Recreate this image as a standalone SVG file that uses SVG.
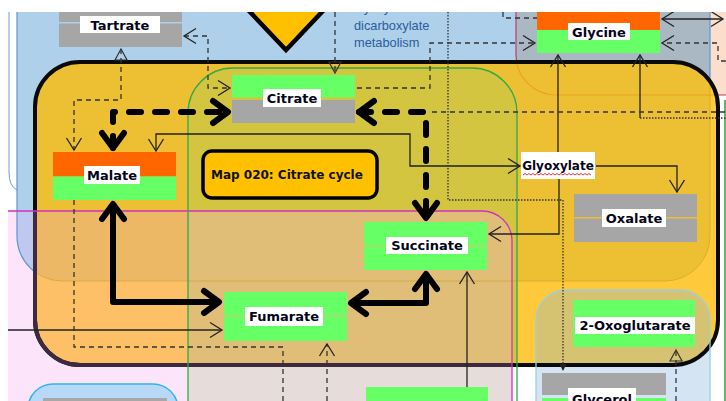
<svg xmlns="http://www.w3.org/2000/svg" width="726" height="401" viewBox="0 0 726 401">
<style>
.lbl{font-family:"DejaVu Sans",Verdana,sans-serif;font-weight:bold;font-size:13px;fill:#05051a;text-anchor:middle}
.lblbox{fill:#fff}
.or{fill:#ff6600}
.gr{fill:#66ff66}
.gy{fill:#a6a6a6}
.thin{fill:none;stroke:#222;stroke-width:1.3}
.dash{fill:none;stroke:#333;stroke-width:1.3;stroke-dasharray:5 4}
.dot{fill:none;stroke:#333;stroke-width:1.3;stroke-dasharray:1.5 1.5}
.thick{fill:none;stroke:#000;stroke-width:6;stroke-linejoin:round}
.thickdash{fill:none;stroke:#000;stroke-width:6;stroke-dasharray:12 14;stroke-linecap:round;stroke-linejoin:round}
.note{font-family:"Liberation Sans",Arial,sans-serif;font-size:12.8px;fill:#2a5d9a}
</style>
<defs>
  <!-- background region outlines -->
  <path id="shBlue" d="M17,-20 H710 V236 A45,45 0 0 1 665,281 H62 A45,45 0 0 1 17,236 Z"/>
  <path id="shRed" d="M516,-20 H760 V95 H556 A40,40 0 0 1 516,55 Z"/>
  <path id="shPink" d="M8,211 H482 A30,30 0 0 1 512,241 V470 H8 Z"/>
  <path id="shGreen" d="M188,470 V113 A45,45 0 0 1 233,68 H472 A45,45 0 0 1 517,113 V470 Z"/>
  <rect id="shYel" x="35" y="62" width="683" height="303" rx="45"/>
  <rect id="shBox" x="536" y="290" width="174" height="200" rx="30"/>

  <clipPath id="cView"><rect x="0" y="12" width="726" height="389"/></clipPath>
  <clipPath id="cYel"><use href="#shYel"/></clipPath>
  <clipPath id="cBlue"><use href="#shBlue"/></clipPath>
  <clipPath id="cPink"><use href="#shPink"/></clipPath>

  <!-- arrowheads -->
  <marker id="ah" viewBox="-14 -9 16 18" markerWidth="16" markerHeight="18" refX="0" refY="0" orient="auto-start-reverse" markerUnits="userSpaceOnUse">
    <path d="M-12,-7.5 L0,0 L-12,7.5" fill="none" stroke="#222" stroke-width="1.3"/>
  </marker>
  <marker id="tri" viewBox="-13 -8 15 16" markerWidth="15" markerHeight="16" refX="0" refY="0" orient="auto-start-reverse" markerUnits="userSpaceOnUse">
    <path d="M-11,-6 L0,0 L-11,6 Z" fill="none" stroke="#333" stroke-width="1.2"/>
  </marker>
  <marker id="ftri" viewBox="-9 -5 10 10" markerWidth="10" markerHeight="10" refX="0" refY="0" orient="auto" markerUnits="userSpaceOnUse">
    <path d="M-7,-3.5 L0,0 L-7,3.5 Z" fill="#222"/>
  </marker>
  <marker id="big" viewBox="-20 -16 26 32" markerWidth="26" markerHeight="32" refX="0" refY="0" orient="auto-start-reverse" markerUnits="userSpaceOnUse">
    <path d="M-15,-11 L0,0 L-15,11" fill="none" stroke="#000" stroke-width="6" stroke-linecap="round" stroke-linejoin="round"/>
  </marker>
</defs>

<g clip-path="url(#cView)">
  <!-- backdrop regions -->
  <g id="regions">
    <rect width="726" height="401" fill="#fff"/>
    <path d="M9,0 V172 Q9,186 17,190" fill="none" stroke="#6a9fd8" stroke-width="1"/>
    <use href="#shBlue" fill="#aed0ea"/>
    <use href="#shRed" fill="#fbdfcc"/>
    <g clip-path="url(#cBlue)"><use href="#shRed" fill="#a9b8c3"/></g>
    <use href="#shPink" fill="#fce4fa"/>
    <g clip-path="url(#cBlue)"><use href="#shPink" fill="#bfc9ef"/></g>
    <g clip-path="url(#cPink)"><use href="#shGreen" fill="#e6dcda"/></g>
    <use href="#shBox" fill="#d4e4f2"/>
    <rect x="28" y="384" width="150" height="100" rx="25" fill="#b8d8f8" stroke="#30b4f0" stroke-width="1.5"/>
    <rect x="43" y="398" width="124" height="20" fill="#a8a8a8"/>
    <use href="#shBlue" fill="none" stroke="#5b96d6" stroke-width="1.2"/>
    <use href="#shRed" fill="none" stroke="#c23c5c" stroke-width="1.2"/>
    <line x1="725" y1="100" x2="725" y2="401" stroke="#2fa040" stroke-width="1.5"/>
  </g>

  <!-- organic acid metabolism block -->
  <g id="yellow-block">
    <g clip-path="url(#cYel)">
      <rect x="35" y="62" width="683" height="303" fill="#fec93b"/>
      <use href="#shBlue" fill="#ecc032"/>
      <use href="#shPink" fill="#fdc066"/>
      <g clip-path="url(#cBlue)"><use href="#shPink" fill="#edb865"/></g>
      <use href="#shGreen" fill="#d4c541"/>
      <g clip-path="url(#cPink)"><use href="#shGreen" fill="#e1be78"/></g>
      <use href="#shBox" fill="#d6c372"/>
      <use href="#shBlue" fill="none" stroke="#c9a02a" stroke-width="1" opacity="0.6"/>
      <use href="#shRed" fill="none" stroke="#f09a20" stroke-width="1.2" opacity="0.8"/>
    </g>
    <use href="#shYel" fill="none" stroke="#0a0a0a" stroke-width="4"/>
    <g clip-path="url(#cPink)"><use href="#shYel" fill="none" stroke="#3e2a40" stroke-width="4"/></g>
    <path d="M8,211 H482 A30,30 0 0 1 512,241 V470" fill="none" stroke="#d030c0" stroke-width="1.3"/>
    <use href="#shGreen" fill="none" stroke="#2eaa48" stroke-width="1.3"/>
    <use href="#shBox" fill="none" stroke="#9ccfe0" stroke-width="1.3"/>
  </g>

  <!-- pathway map link -->
  <g id="map-link">
    <polygon points="234,-5 286,50 338,-5" fill="#ffc000" stroke="#000" stroke-width="4.5"/>
  </g>

  <g id="note">
    <text class="note" x="351" y="12">Glyoxylate and</text>
    <text class="note" x="354" y="30">dicarboxylate</text>
    <text class="note" x="354" y="46.5">metabolism</text>
  </g>

  <!-- connectors -->
  <g id="connectors">
    <path class="thick" d="M113,204 V302 H219" marker-start="url(#big)" marker-end="url(#big)"/>
    <path class="thick" d="M351,303 H426 V274" marker-start="url(#big)" marker-end="url(#big)"/>
    <path class="thickdash" d="M113,148 V112 H228" marker-start="url(#big)" marker-end="url(#big)"/>
    <path class="thickdash" d="M359,112 H426 V218" marker-start="url(#big)" marker-end="url(#big)"/>

    <path class="thin" d="M156,151 V134 H410 V166 H520" marker-start="url(#ah)" marker-end="url(#ah)"/>
    <path class="thin" d="M558,152 V55" marker-end="url(#ah)"/>
    <path class="thin" d="M596,166 H677 V192" marker-end="url(#ah)"/>
    <path class="thin" d="M559,179 V234 H489" marker-end="url(#ah)"/>
    <path class="thin" d="M640,118 V55" marker-end="url(#ah)"/>
    <path class="dot" d="M640,118 H726"/>
    <path class="thin" d="M8,330 H222" marker-end="url(#ah)"/>
    <path class="thin" d="M467,387 V272" marker-end="url(#ah)"/>
    <path class="thin" d="M662,19 H723" stroke="#555" marker-start="url(#ah)" marker-end="url(#ah)"/>
    <path class="dot" d="M448,12 V200 H563 V371" marker-end="url(#ftri)"/>

    <path class="dash" d="M184,36 H208 V88 H230" marker-start="url(#ah)" marker-end="url(#ah)"/>
    <path class="dash" d="M121,49 V100 H74 V150" marker-start="url(#tri)" marker-end="url(#ah)"/>
    <path class="dash" d="M74,200 V347 H283 V401"/>
    <path class="dash" d="M335,12 V73" marker-end="url(#tri)"/>
    <path class="dash" d="M357,88 H430 V43 H535" marker-end="url(#ah)"/>
    <path class="dash" d="M503,12 V18 H537"/>
    <path class="dash" d="M726,61 H718 V43 H662" marker-end="url(#ah)"/>
    <path class="dash" d="M432,112 H726"/>
    <path class="dash" d="M327,401 V344" marker-end="url(#ah)"/>
    <path class="dash" d="M676,401 V350" marker-end="url(#tri)"/>
  </g>

  <!-- compounds -->
  <g id="tartrate">
    <rect class="gy" x="59" y="0" width="123" height="22"/>
    <rect class="gy" x="59" y="23.5" width="123" height="23.5"/>
    <rect class="lblbox" x="80" y="16" width="80" height="17"/>
    <text class="lbl" x="120" y="29.5">Tartrate</text>
  </g>
  <g id="glycine">
    <rect class="or" x="537" y="0" width="123" height="30"/>
    <rect class="gr" x="537" y="30" width="123" height="23"/>
    <rect class="lblbox" x="568" y="23" width="62" height="17"/>
    <text class="lbl" x="599" y="36.5">Glycine</text>
  </g>
  <g id="citrate">
    <rect class="gr" x="232" y="75" width="123" height="22.5"/>
    <rect class="gy" x="232" y="100" width="123" height="23"/>
    <rect class="lblbox" x="263" y="89" width="58" height="18"/>
    <text class="lbl" x="292" y="103">Citrate</text>
  </g>
  <g id="malate">
    <rect class="or" x="53" y="152" width="123" height="24.5"/>
    <rect class="gr" x="53" y="176.5" width="123" height="23.5"/>
    <rect class="lblbox" x="84" y="166" width="56" height="18"/>
    <text class="lbl" x="112" y="180">Malate</text>
  </g>
  <g id="map020">
    <rect x="203" y="151" width="174" height="47" rx="9" fill="#ffc000" stroke="#000" stroke-width="3.5"/>
    <text x="211" y="178.5" font-family="DejaVu Sans, Verdana, sans-serif" font-weight="bold" font-size="12" fill="#111">Map 020: Citrate cycle</text>
  </g>
  <g id="glyoxylate">
    <rect class="lblbox" x="521" y="152" width="74" height="27"/>
    <text class="lbl" x="558" y="170" style="font-size:12px">Glyoxylate</text>
    <path d="M523,175 l2,-1.5 l2,1.5 l2,-1.5 l2,1.5 l2,-1.5 l2,1.5 l2,-1.5 l2,1.5 l2,-1.5 l2,1.5 l2,-1.5 l2,1.5 l2,-1.5 l2,1.5 l2,-1.5 l2,1.5 l2,-1.5 l2,1.5 l2,-1.5 l2,1.5 l2,-1.5 l2,1.5 l2,-1.5 l2,1.5 l2,-1.5 l2,1.5 l2,-1.5 l2,1.5 l2,-1.5 l2,1.5 l2,-1.5 l2,1.5 l2,-1.5 l2,1.5" fill="none" stroke="#e02020" stroke-width="0.9"/>
  </g>
  <g id="oxalate">
    <rect class="gy" x="574" y="194" width="123" height="23"/>
    <rect class="gy" x="574" y="218.5" width="123" height="23.5"/>
    <rect class="lblbox" x="602" y="209" width="64" height="18"/>
    <text class="lbl" x="634" y="223">Oxalate</text>
  </g>
  <g id="succinate">
    <rect class="gr" x="364" y="222" width="123" height="23.5"/>
    <rect class="gr" x="364" y="246.5" width="123" height="23.5"/>
    <rect class="lblbox" x="386" y="237" width="82" height="17"/>
    <text class="lbl" x="427" y="250">Succinate</text>
  </g>
  <g id="fumarate">
    <rect class="gr" x="224" y="292" width="123" height="23.5"/>
    <rect class="gr" x="224" y="316.5" width="123" height="24.5"/>
    <rect class="lblbox" x="245" y="307" width="78" height="19"/>
    <text class="lbl" x="284" y="321">Fumarate</text>
  </g>
  <g id="oxoglutarate">
    <rect class="gr" x="573" y="300" width="122" height="47"/>
    <rect class="lblbox" x="575" y="317" width="120" height="17"/>
    <text class="lbl" x="635" y="330">2-Oxoglutarate</text>
  </g>
  <g id="glycerol">
    <rect class="gy" x="542" y="373" width="124" height="22"/>
    <rect class="gr" x="542" y="398" width="124" height="20"/>
    <rect class="lblbox" x="568" y="388" width="68" height="20"/>
    <text class="lbl" x="602" y="404">Glycerol</text>
  </g>
  <g id="lower-compound">
    <rect class="gr" x="366" y="387" width="122" height="30"/>
  </g>
</g>
</svg>
